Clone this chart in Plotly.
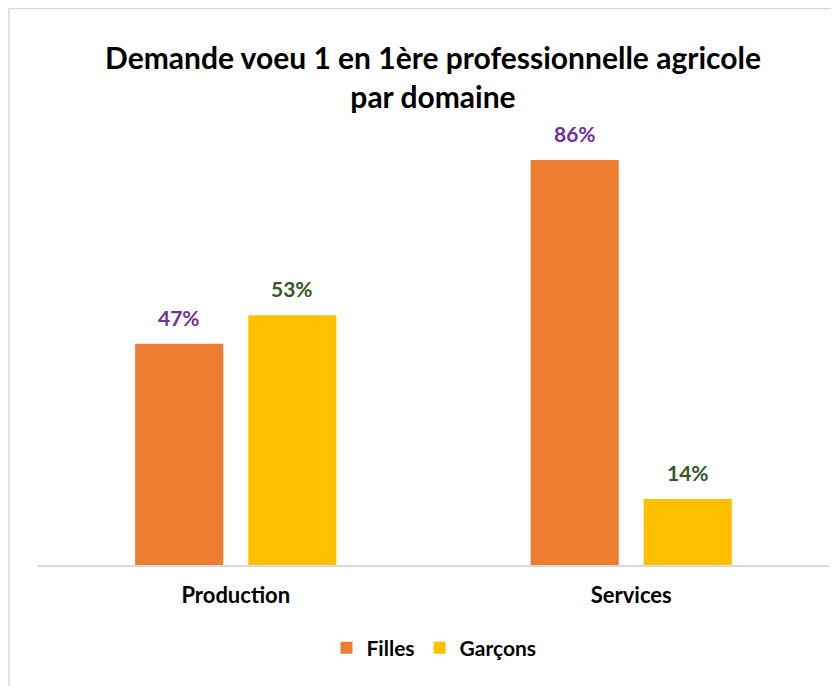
import plotly.graph_objects as go

categories = ["Production", "Services"]
filles = [47, 86]
garcons = [53, 14]
series_names = ["Filles", "Garçons"]
bar_colors = ["#ED7D31", "#FFC000"]
label_colors = ["#7030A0", "#375623"]

FONT = "Lato"
W, H = 839, 686
OFF = 8  # page body offset
PL, PR, PT, PB = 38 - OFF, 829 - OFF, 94 - OFF, 565 - OFF
pw, ph = PR - PL, PB - PT

fig = go.Figure()
for name, vals, col in zip(series_names, [filles, garcons], bar_colors):
    fig.add_trace(go.Bar(x=categories, y=vals, name=name, marker=dict(color=col, line=dict(width=0))))

annotations = []
for vals, lc, shift in zip([filles, garcons], label_colors, [-56.5, 56.5]):
    for c, v in zip(categories, vals):
        annotations.append(dict(
            x=c, y=v, xref="x", yref="y", text=f"{v}%", showarrow=False,
            xshift=shift, yanchor="bottom", yshift=12,
            font=dict(family=FONT, size=21, color=lc, weight="bold")))

bx = (1 - PL) / pw
by = (PB - 0.5) / ph

fig.update_layout(
    width=W, height=H,
    margin=dict(l=PL, r=W - PR, t=PT, b=H - PB, autoexpand=False),
    paper_bgcolor="white", plot_bgcolor="white",
    barmode="group", bargap=0.428, bargroupgap=0.221,
    title=dict(text="Demande voeu 1 en 1ère professionnelle agricole<br>par domaine",
               x=(433 - OFF) / W, xanchor="center", y=1 - (69 - OFF) / H, yanchor="middle",
               font=dict(family=FONT, size=30, color="black", weight="bold")),
    xaxis=dict(showline=True, linecolor="#D9D9D9", linewidth=1.5, ticks="",
               tickfont=dict(family=FONT, size=22, color="black", weight="bold"),
               ticklabelstandoff=10, showgrid=False),
    yaxis=dict(range=[0, 100], visible=False, showgrid=False, zeroline=False),
    legend=dict(orientation="h", x=(434 - OFF - PL) / pw, xanchor="center",
                y=-(648 - 565) / ph, yanchor="middle",
                font=dict(family=FONT, size=21, color="black", weight="bold"),
                itemwidth=30, traceorder="normal"),
    annotations=annotations,
    shapes=[
        dict(type="line", xref="paper", yref="paper", x0=bx, x1=1.05,
             y0=by, y1=by, line=dict(color="#D9D9D9", width=1.5)),
        dict(type="line", xref="paper", yref="paper", x0=bx, x1=bx,
             y0=by, y1=-0.3, line=dict(color="#D9D9D9", width=1.5)),
    ],
)

fig.write_html("out.html")
